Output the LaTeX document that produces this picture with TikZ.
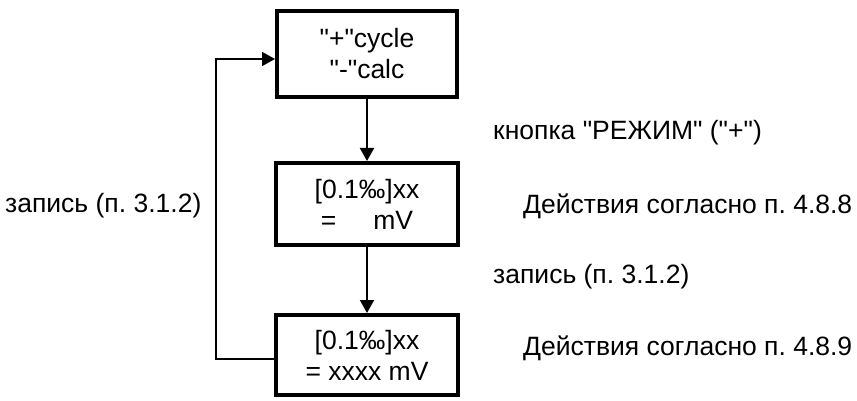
\documentclass[tikz,border=0pt]{standalone}
\usepackage{fontspec}
\setmainfont{Liberation Sans}
\usetikzlibrary{arrows.meta}
\newcommand\qt{\textquotedbl}
\begin{document}
\frenchspacing
\begin{tikzpicture}[x=1pt,y=-1pt,
  screen/.style={draw=black,line width=4pt,fill=white,align=center,
    inner sep=0pt,font=\fontsize{26.5}{31}\selectfont},
  note/.style={inner sep=0pt,font=\fontsize{26.5}{31}\selectfont},
  flow/.style={line width=2pt,-{Triangle[length=13pt 0,width=14pt 0]}},
  loop/.style={line width=1.6pt,-{Triangle[length=13pt 0,width=14pt 0]}}]
  \useasboundingbox (0,0) rectangle (857,401);

  % the three screens
  \node[screen,minimum width=180pt,minimum height=86pt] (mode) at (367,54)
    {\qt+\qt cycle\\\qt-\qt calc};
  \node[screen,minimum width=182pt,minimum height=82pt] (calib) at (367,204)
    {[0.1‰]xx\\=\hspace{37pt}mV};
  \node[screen,minimum width=182pt,minimum height=80pt] (value) at (367,355)
    {[0.1‰]xx\\= xxxx mV};

  % transitions
  \draw[flow] (mode.south) -- (calib.north);
  \draw[flow] (calib.south) -- (value.north);
  \coordinate (lb) at (216,359);
  \coordinate (lt) at (216,59);
  \draw[loop] (value.west |- lb) -- (lb) -- (lt) -- (mode.west |- lt);

  % captions
  \node[note,anchor=west] (t1) at (493,133) {кнопка \qt РЕЖИМ\qt{} (\qt+\qt)};
  \node[note,anchor=west] (t2) at (523,206) {Действия согласно п. 4.8.8};
  \node[note,anchor=west] (t3) at (493,277) {запись (п. 3.1.2)};
  \node[note,anchor=west] (t4) at (523,348) {Действия согласно п. 4.8.9};
  \node[note,anchor=west] (t5) at (5,206) {запись (п. 3.1.2)};
\end{tikzpicture}
\end{document}
